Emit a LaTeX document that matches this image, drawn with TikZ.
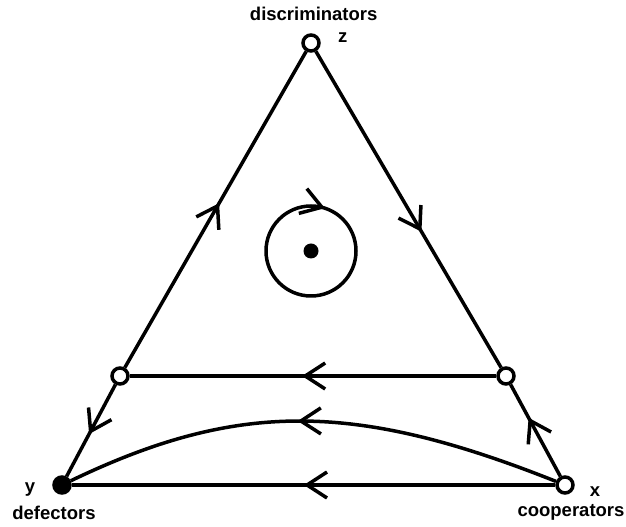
\documentclass[tikz,border=0pt]{standalone}
\usepackage{fontspec}
\setmainfont{Liberation Sans}
\usetikzlibrary{arrows.meta,decorations.markings}

\begin{document}
\begin{tikzpicture}[x=1pt, y=1pt,
    trait/.style={line width=3.5pt},
    sommet/.style={circle, draw, line width=3.5pt, fill=white, minimum size=16pt, inner sep=0pt},
    fleche/.style={postaction={decorate}, decoration={markings,
        mark=at position #1 with {\arrow{Straight Barb[length=20pt, width=26pt]}}}},
    etiquette/.style={font=\fontsize{18.5}{20}\selectfont\bfseries, inner sep=0pt}]
    \useasboundingbox (0,0) rectangle (626,527);

    % Sommets du simplexe
    \node[sommet] (z) at (311,484) {};
    \node[sommet, fill=black] (y) at (62,42) {};
    \node[sommet] (x) at (565,42) {};
    \node[sommet] (gauche) at (120,151) {};
    \node[sommet] (droite) at (506,151) {};

    % Aretes
    \draw[trait, fleche=0.54] (gauche) -- (y);
    \draw[trait, fleche=0.52] (gauche) -- (z);
    \draw[trait, fleche=0.57] (z) -- (droite);
    \draw[trait, fleche=0.64] (x) -- (droite);
    \draw[trait, fleche=0.53] (droite) -- (gauche);
    \draw[trait, fleche=0.52] (x) -- (y);
    \draw[trait, fleche=0.53] (x) .. controls (354,126) and (237,126) .. (y);

    % Centre et orbite
    \node[circle, fill=black, minimum size=15pt, inner sep=0pt] (centre) at (311,276) {};
    \draw[trait, fleche=0.05] (centre) ++(0,45) arc[start angle=90, end angle=-270, radius=45];

    % Etiquettes
    \node[etiquette, anchor=base] (ldisc) at (313.7,506.3) {discriminators};
    \node[etiquette, anchor=base west] (lz) at (338,484) {z};
    \node[etiquette, anchor=base] (ly) at (30,34.5) {y};
    \node[etiquette, anchor=base] (ldef) at (54,7) {defectors};
    \node[etiquette, anchor=base] (lx) at (595,30.3) {x};
    \node[etiquette, anchor=base] (lcoop) at (571,10) {cooperators};

\end{tikzpicture}
\end{document}
